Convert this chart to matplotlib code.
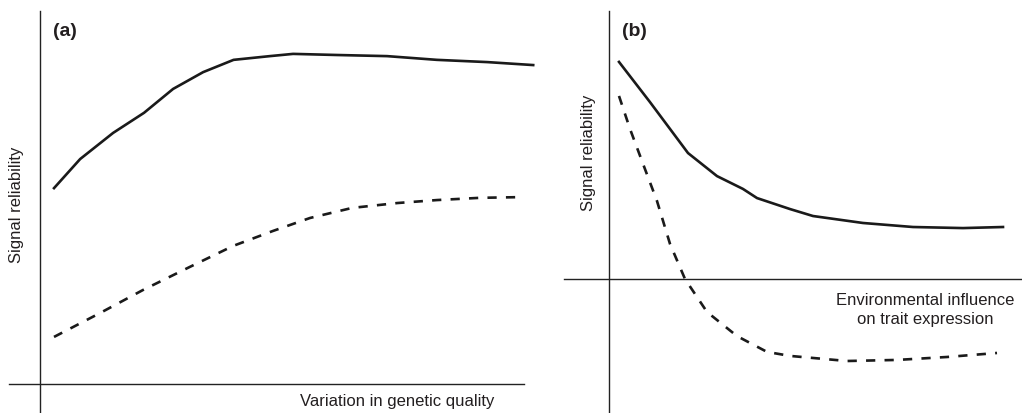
import matplotlib.pyplot as plt

plt.rcParams['font.family'] = ['Liberation Sans', 'DejaVu Sans']

# panel (a): signal reliability vs variation in genetic quality
a_solid_x = [0.29, 0.83, 1.51, 2.15, 2.75, 3.37, 4.0, 4.75, 5.23, 6.14, 7.17, 8.20, 9.24, 10.19]
a_solid_y = [5.25, 6.03, 6.73, 7.27, 7.91, 8.36, 8.69, 8.79, 8.85, 8.82, 8.79, 8.69, 8.63, 8.55]
a_dash_x = [0.29, 1.24, 2.13, 3.10, 3.99, 4.81, 5.58, 6.45, 7.38, 8.20, 9.09, 9.98]
a_dash_y = [1.26, 1.90, 2.52, 3.14, 3.70, 4.10, 4.45, 4.72, 4.85, 4.93, 4.99, 5.01]

# panel (b): signal reliability vs environmental influence
b_solid_x = [0.25, 1.025, 1.975, 2.7, 3.35, 3.7, 4.525, 5.1, 6.35, 7.6, 8.85, 9.85]
b_solid_y = [8.10, 6.60, 4.70, 3.84, 3.36, 3.02, 2.61, 2.35, 2.09, 1.94, 1.90, 1.94]
b_dash_x = [0.25, 0.525, 0.9, 1.2, 1.525, 1.9, 2.45, 3.2, 3.95, 4.525, 5.95, 7.2, 8.45, 9.7]
b_dash_y = [6.83, 5.60, 4.10, 2.91, 1.31, 0.0, -1.23, -2.13, -2.72, -2.87, -3.06, -3.02, -2.91, -2.76]

LINE = '#1a1a1a'
TXT = '#231f20'
W, H = 1022, 414

fig = plt.figure(figsize=(W / 100, H / 100), dpi=100)


def panel(rect, xlim, ylim):
    ax = fig.add_axes(rect)
    ax.set_xlim(*xlim)
    ax.set_ylim(*ylim)
    for s in ['top', 'right']:
        ax.spines[s].set_visible(False)
    for s in ['left', 'bottom']:
        ax.spines[s].set_position(('data', 0))
        ax.spines[s].set_linewidth(1.0)
        ax.spines[s].set_color('#222222')
    ax.set_xticks([])
    ax.set_yticks([])
    ax.patch.set_alpha(0)
    return ax


ax1 = panel([9 / W, 0, (524 - 9) / W, (414 - 12) / H], (-0.64, 10), (-0.78, 10))
ax1.plot(a_solid_x, a_solid_y, color=LINE, lw=1.9, clip_on=False)
ax1.plot(a_dash_x, a_dash_y, color=LINE, lw=1.9, ls=(0, (3.5, 3.5)), clip_on=False)

ax2 = panel([564 / W, 0, (1022 - 564) / W, (414 - 12) / H], (-1.125, 10.325), (-5, 10))
ax2.plot(b_solid_x, b_solid_y, color=LINE, lw=1.9, clip_on=False)
ax2.plot(b_dash_x, b_dash_y, color=LINE, lw=1.9, ls=(0, (3.5, 3.5)), clip_on=False)

# labels
fig.text(53 / W, 1 - 31 / H, '(a)', fontsize=14, fontweight='bold', color=TXT, ha='left', va='center')
fig.text(622 / W, 1 - 31 / H, '(b)', fontsize=14, fontweight='bold', color=TXT, ha='left', va='center')
fig.text(17 / W, 1 - 205 / H, 'Signal reliability', rotation=90, fontsize=12, color=TXT, ha='center', va='center')
fig.text(588 / W, 1 - 153 / H, 'Signal reliability', rotation=90, fontsize=12, color=TXT, ha='center', va='center')
fig.text(397 / W, 1 - 402 / H, 'Variation in genetic quality', fontsize=12, color=TXT, ha='center', va='center')
fig.text(925 / W, 1 - 310 / H, 'Environmental influence\non trait expression', fontsize=12, color=TXT,
         ha='center', va='center', multialignment='center', linespacing=1.4)

fig.savefig('out.png', dpi=100)
